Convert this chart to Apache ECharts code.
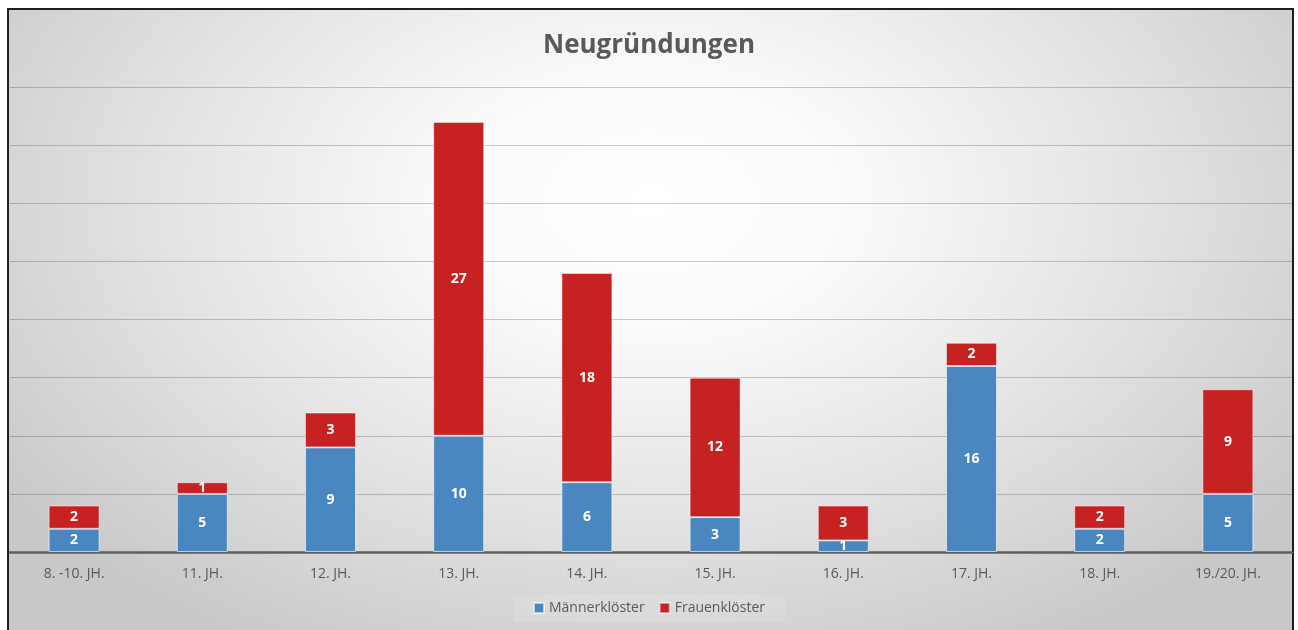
<!DOCTYPE html>
<html>
<head>
<meta charset="utf-8">
<script src="https://cdn.jsdelivr.net/npm/echarts@6/dist/echarts.min.js"></script>
<style>
html,body{margin:0;padding:0;background:#fff;}
#frame{position:absolute;left:7px;top:8px;width:1283px;height:640px;border:2px solid #1e1e1e;
background:radial-gradient(ellipse 62% 80% at 50% 30%, #ffffff 0%, #fafafa 25%, #e4e4e4 60%, #c8c8c8 100%);}
#chart{position:absolute;left:0;top:0;width:1298px;height:630px;}
</style>
</head>
<body>
<div id="frame"></div>
<div id="chart"></div>
<script>
const categories = ['8. -10. JH.','11. JH.','12. JH.','13. JH.','14. JH.','15. JH.','16. JH.','17. JH.','18. JH.','19./20. JH.'];
const maenner = [2,5,9,10,6,3,1,16,2,5];
const frauen = [2,1,3,27,18,12,3,2,2,9];
const seriesNames = ['Männerklöster','Frauenklöster'];
const titleText = 'Neugründungen';

const chart = echarts.init(document.getElementById('chart'), null, {renderer:'canvas'});
const labelStyle = {show:true, position:'inside', color:'#fff', fontWeight:'bold', fontSize:14, fontFamily:'Open Sans'};
chart.setOption({
  backgroundColor:'transparent',
  animation:false,
  title:{text:titleText, left:'center', top:28, textStyle:{fontFamily:'Open Sans', fontWeight:'bold', fontSize:26, color:'#595959'}},
  legend:{bottom:8, left:'center', itemWidth:10, itemHeight:10, itemGap:14, icon:'rect',
    backgroundColor:'rgba(255,255,255,0.12)', padding:[7,20,7,20],
    textStyle:{fontFamily:'Open Sans', fontSize:14, color:'#595959'}, data:seriesNames},
  grid:{left:10, right:6, top:87, bottom:78, containLabel:false},
  xAxis:{type:'category', data:categories,
    axisLine:{lineStyle:{color:'#5f5f5f', width:2.5}}, axisTick:{show:false},
    axisLabel:{color:'#595959', fontSize:14, fontFamily:'Open Sans', margin:15}},
  yAxis:{type:'value', min:0, max:40, interval:5, axisLabel:{show:false}, axisLine:{show:false}, axisTick:{show:false},
    splitLine:{lineStyle:{color:'rgba(0,0,0,0.2)', width:1}}},
  series:[
    {name:seriesNames[0], type:'bar', stack:'a', data:maenner, barWidth:51,
     itemStyle:{color:'#4A86C0', borderColor:'rgba(255,255,255,0.6)', borderWidth:1}, label:labelStyle},
    {name:seriesNames[1], type:'bar', stack:'a', data:frauen, barWidth:51,
     itemStyle:{color:'#C62222', borderColor:'rgba(255,255,255,0.5)', borderWidth:1}, label:labelStyle}
  ]
});
</script>
</body>
</html>
